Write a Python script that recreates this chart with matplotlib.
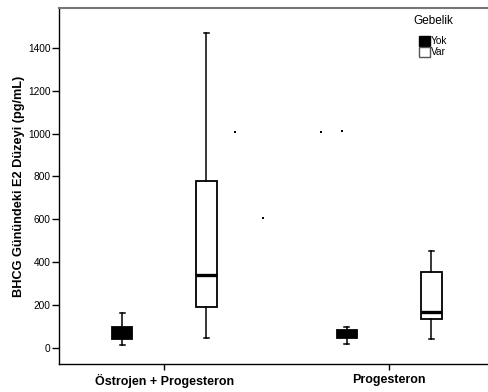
import matplotlib.pyplot as plt

plt.rcParams["font.family"] = ["Liberation Sans", "DejaVu Sans"]

# Data
categories = ["Östrojen + Progesteron", "Progesteron"]
groups = ["Yok", "Var"]

# whisker low, q1, median, q3, whisker high
yok_stats = [
    [14, 40, 62, 99, 164],
    [19, 47, 65, 84, 98],
]
var_stats = [
    [45, 190, 342, 780, 1467],
    [40, 135, 169, 356, 452],
]

# stray outlier marks (category position, value)
stray_x = [0.316, 0.44, 0.698, 0.791]
stray_y = [1007, 608, 1007, 1010]

fig = plt.figure(figsize=(4.88, 3.92), dpi=100)
ax = fig.add_axes([0.121, 0.0714, 0.879, 0.908])

offset = 0.187
width = 0.093


def make_stats(vals):
    lo, q1, med, q3, hi = vals
    return {"whislo": lo, "q1": q1, "med": med, "q3": q3, "whishi": hi, "fliers": []}


for i, (ys, vs) in enumerate(zip(yok_stats, var_stats)):
    ax.bxp(
        [make_stats(ys)],
        positions=[i - offset],
        widths=[width],
        capwidths=[0.022],
        patch_artist=True,
        boxprops=dict(facecolor="black", edgecolor="black", linewidth=1.3),
        medianprops=dict(color="black", linewidth=2),
        whiskerprops=dict(color="black", linewidth=1.1),
        capprops=dict(color="black", linewidth=1.1),
        manage_ticks=False,
    )
    ax.bxp(
        [make_stats(vs)],
        positions=[i + offset],
        widths=[width],
        capwidths=[0.022],
        patch_artist=True,
        boxprops=dict(facecolor="white", edgecolor="black", linewidth=1.3),
        medianprops=dict(color="black", linewidth=2.4),
        whiskerprops=dict(color="black", linewidth=1.1),
        capprops=dict(color="black", linewidth=1.1),
        manage_ticks=False,
    )

ax.scatter(stray_x, stray_y, s=1.5, color="black", marker="s", linewidths=0)

ax.set_xlim(-0.467, 1.44)
ax.set_ylim(-75, 1585)
ax.set_xticks([0, 1])
ax.set_xticklabels(categories, fontsize=9, fontweight="bold")
ax.set_yticks([0, 200, 400, 600, 800, 1000, 1200, 1400])
ax.tick_params(axis="y", labelsize=7.3, length=5, width=1, pad=1)
ax.tick_params(axis="x", length=4, width=1, pad=3)
ax.set_ylabel("BHCG Günündeki E2 Düzeyi (pg/mL)", fontsize=9.2, fontweight="bold", labelpad=2)

ax.spines["right"].set_visible(False)
ax.spines["top"].set_color("#777777")
ax.spines["top"].set_linewidth(1.5)
ax.spines["left"].set_linewidth(1)
ax.spines["bottom"].set_linewidth(1)

handles = [
    plt.Rectangle((0, 0), 1, 1, facecolor="black", edgecolor="black"),
    plt.Rectangle((0, 0), 1, 1, facecolor="white", edgecolor="#555555"),
]
leg = ax.legend(
    handles,
    groups,
    title="Gebelik",
    loc="upper right",
    bbox_to_anchor=(0.935, 1.0),
    frameon=False,
    fontsize=7.3,
    title_fontsize=8.5,
    handlelength=1.1,
    handleheight=1.2,
    handletextpad=0.15,
    labelspacing=0.05,
    borderpad=0.2,
)
leg._legend_box.align = "center"
leg._legend_box.sep = 6

fig.savefig("out.png", dpi=100)
